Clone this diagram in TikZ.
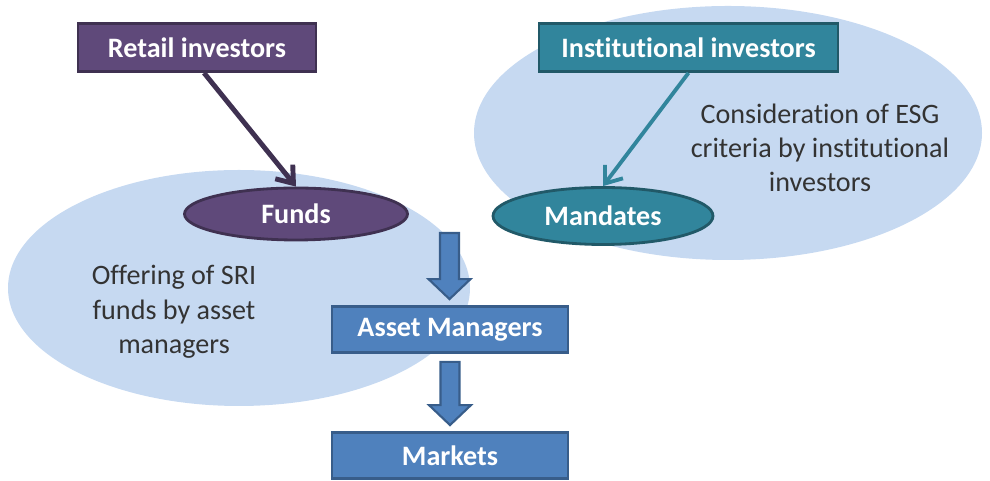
\documentclass[tikz,border=0pt]{standalone}
\usepackage{fontspec}
\setmainfont[Ligatures={NoCommon}]{Carlito}
\usepackage{xcolor,tikz}
\usetikzlibrary{calc,positioning,shapes.geometric,arrows.meta}
\tikzset{>={Straight Barb[length=3mm,width=4.5mm]}}
\definecolor{bubble}{HTML}{C6D9F1}
\definecolor{purplefill}{HTML}{5F497A}
\definecolor{purpleline}{HTML}{3F3151}
\definecolor{tealfill}{HTML}{31859C}
\definecolor{tealline}{HTML}{215968}
\definecolor{bluefill}{HTML}{4F81BD}
\definecolor{blueline}{HTML}{385D8A}
\definecolor{graytext}{HTML}{333333}
\tikzset{
  boxlabel/.style={font=\fontsize{16}{19.5}\selectfont\bfseries, text=white, line width=1.6pt, inner sep=0pt},
  investor/.style={boxlabel, rectangle, minimum height=0.96cm},
  vehicle/.style={boxlabel, ellipse},
  bluebox/.style={boxlabel, rectangle, draw=blueline, fill=bluefill, minimum width=4.72cm, minimum height=0.92cm},
  remark/.style={font=\fontsize{16}{19.5}\selectfont, text=graytext, align=center},
  blockarrow/.style={draw=blueline, fill=bluefill, line width=1.2pt, line join=miter,
    to path={let \p1=(\tikztostart), \p2=(\tikztotarget) in
      (\x1-0.19cm,\y1-0.16cm) -- (\x1-0.19cm,\y2+0.52cm) -- (\x1-0.42cm,\y2+0.52cm) -- (\x1,\y2+0.12cm)
      -- (\x1+0.42cm,\y2+0.52cm) -- (\x1+0.19cm,\y2+0.52cm) -- (\x1+0.19cm,\y1-0.16cm) -- cycle}}
}
\begin{document}
\begin{tikzpicture}
\useasboundingbox (0,0) rectangle (19.8,9.62);
%%%% bubbles
\fill[bubble] (4.78,3.86) ellipse (4.62 and 2.36);
\fill[bubble] (14.56,6.96) ellipse (5.08 and 2.54);
%%%% investors
\node[investor, draw=purpleline, fill=purplefill, minimum width=4.76cm] (retail) at (3.94,8.67) {Retail investors};
\node[investor, draw=tealline, fill=tealfill, minimum width=5.98cm] (inst) at (13.77,8.67) {Institutional investors};
%%%% vehicles
\node[vehicle, draw=purpleline, fill=purplefill, minimum width=4.46cm, minimum height=1.04cm] (funds) at (5.92,5.34) {Funds};
\node[vehicle, draw=tealline, fill=tealfill, minimum width=4.40cm, minimum height=1.14cm] (mandates) at (12.06,5.30) {Mandates};
%%%% remarks
\node[remark] (sri) at (3.48,3.38) {Offering of SRI\\funds by asset\\managers};
\node[remark] (esg) at (16.4,6.66) {Consideration of ESG\\criteria by institutional\\investors};
%%%% chain
\node[bluebox] (am) at (9.0,3.03) {Asset Managers};
\node[bluebox] (mk) at (9.0,0.51) {Markets};
\coordinate (amfeed) at (8.99,5.12);
%%%% arrows
\draw[->, purpleline, line width=2.8pt] ([xshift=0.14cm]retail.south) -- (funds.north);
\draw[->, tealfill, line width=2.2pt] (inst.south) -- (mandates.north);
\draw[blockarrow] (amfeed) to (am.north);
\draw[blockarrow] (am.south) to (mk.north);
\end{tikzpicture}
\end{document}
